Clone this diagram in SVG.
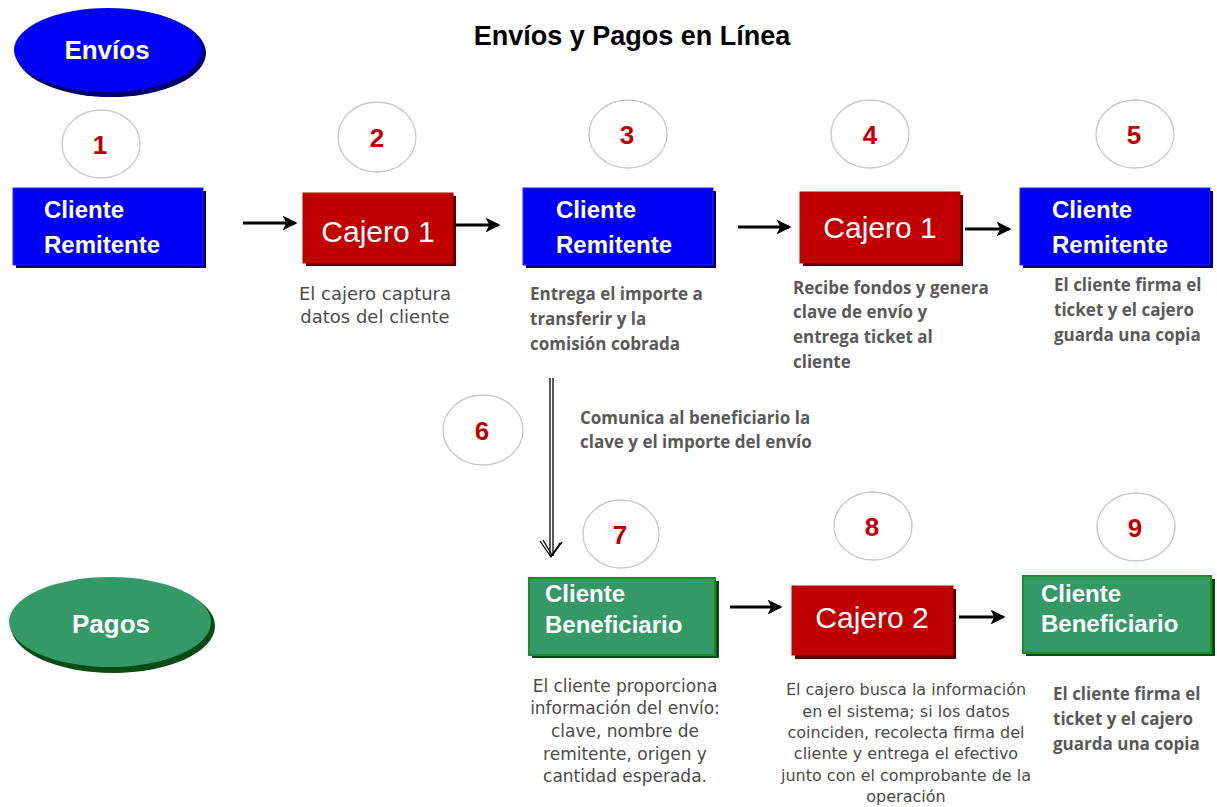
<svg xmlns="http://www.w3.org/2000/svg" width="1217" height="807" viewBox="0 0 1217 807">
<defs>
<style>
.title{font-family:"Liberation Sans",Arial,sans-serif;font-weight:bold;font-size:27px;fill:#000}
.ell{font-family:"Liberation Sans",Arial,sans-serif;font-weight:bold;font-size:26px;fill:#fff}
.num{font-family:"Liberation Sans",Arial,sans-serif;font-weight:bold;font-size:26px;fill:#c00000;text-anchor:middle}
.circ{fill:#fff;stroke:#c8c8c8;stroke-width:1.3}
.lbl{font-family:"Liberation Sans",Arial,sans-serif;font-weight:bold;font-size:24px;fill:#fff}
.caj{font-family:"Liberation Sans",Arial,sans-serif;font-size:30px;fill:#fff;text-anchor:middle}
.blue{fill:#0000f5;stroke:#2020ff;stroke-width:1}
.red{fill:#c00000;stroke:#b00000;stroke-width:1}
.green{fill:#339966;stroke:#1d8a2a;stroke-width:2}
.shb{fill:#00006a}
.shr{fill:#5a0000}
.shg{fill:#0a4a14}
.desc{font-family:"Open Sans","Liberation Sans",sans-serif;font-weight:bold;font-size:17px;fill:#595959}
.fz{font-family:"DejaVu Sans",sans-serif;fill:#4a4a4a;text-anchor:middle}
.f2{font-size:18px}
.f7{font-size:17px}
.f8{font-size:16px}
.arr{stroke:#000;stroke-width:3;fill:none;marker-end:url(#ah)}
</style>
<marker id="ah" viewBox="0 0 12 12" refX="10" refY="6" markerWidth="5" markerHeight="5" markerUnits="strokeWidth" orient="auto">
<path d="M0,0 L12,6 L0,12 L3,6 z" fill="#000"/>
</marker>
</defs>
<rect width="1217" height="807" fill="#fff"/>
<text class="title" x="632" y="45" text-anchor="middle">Envíos y Pagos en Línea</text>

<g id="envios">
<ellipse cx="111" cy="53" rx="95" ry="44" fill="#00006a"/>
<ellipse cx="108" cy="50" rx="94" ry="42" fill="#0000f5"/>
<text class="ell" x="107" y="59" text-anchor="middle">Envíos</text>
</g>
<g id="pagos">
<ellipse cx="113" cy="626" rx="102" ry="47" fill="#0a4a14"/>
<ellipse cx="110" cy="622" rx="101" ry="45" fill="#339966"/>
<text class="ell" x="111" y="633" text-anchor="middle">Pagos</text>
</g>

<g id="c1"><ellipse class="circ" cx="101" cy="144" rx="39" ry="34"/><text class="num" x="100" y="154">1</text></g>
<g id="c2"><ellipse class="circ" cx="377" cy="137" rx="39" ry="35"/><text class="num" x="377" y="147">2</text></g>
<g id="c3"><ellipse class="circ" cx="628" cy="134" rx="39" ry="34"/><text class="num" x="627" y="144">3</text></g>
<g id="c4"><ellipse class="circ" cx="870" cy="134" rx="39" ry="34"/><text class="num" x="870" y="144">4</text></g>
<g id="c5"><ellipse class="circ" cx="1135" cy="134" rx="39" ry="34"/><text class="num" x="1134" y="144">5</text></g>
<g id="c6"><ellipse class="circ" cx="483" cy="430" rx="40" ry="35"/><text class="num" x="482" y="440">6</text></g>
<g id="c7"><ellipse class="circ" cx="621" cy="534" rx="38" ry="34"/><text class="num" x="620" y="544">7</text></g>
<g id="c8"><ellipse class="circ" cx="873" cy="526" rx="39" ry="34"/><text class="num" x="872" y="536">8</text></g>
<g id="c9"><ellipse class="circ" cx="1136" cy="527" rx="39" ry="34"/><text class="num" x="1135" y="537">9</text></g>

<g id="n1">
<rect class="shb" x="16" y="191" width="190" height="77"/>
<rect class="blue" x="13" y="188" width="190" height="77"/>
<text class="lbl" x="44" y="218">Cliente</text>
<text class="lbl" x="44" y="253">Remitente</text>
</g>
<g id="n2">
<rect class="shr" x="306" y="196" width="150" height="70"/>
<rect class="red" x="303" y="193" width="150" height="70"/>
<text class="caj" x="378" y="242">Cajero 1</text>
</g>
<g id="n3">
<rect class="shb" x="526" y="191" width="190" height="77"/>
<rect class="blue" x="523" y="188" width="190" height="77"/>
<text class="lbl" x="556" y="218">Cliente</text>
<text class="lbl" x="556" y="253">Remitente</text>
</g>
<g id="n4">
<rect class="shr" x="803" y="195" width="160" height="71"/>
<rect class="red" x="800" y="192" width="160" height="71"/>
<text class="caj" x="880" y="238">Cajero 1</text>
</g>
<g id="n5">
<rect class="shb" x="1023" y="191" width="190" height="77"/>
<rect class="blue" x="1020" y="188" width="190" height="77"/>
<text class="lbl" x="1052" y="218">Cliente</text>
<text class="lbl" x="1052" y="253">Remitente</text>
</g>
<g id="n7">
<rect class="shg" x="532" y="581" width="187" height="77"/>
<rect class="green" x="529" y="578" width="186" height="77"/>
<text class="lbl" x="545" y="602">Cliente</text>
<text class="lbl" x="545" y="633">Beneficiario</text>
</g>
<g id="n8">
<rect class="shr" x="795" y="589" width="161" height="70"/>
<rect class="red" x="792" y="586" width="161" height="69"/>
<text class="caj" x="872" y="628">Cajero 2</text>
</g>
<g id="n9">
<rect class="shg" x="1026" y="579" width="189" height="77"/>
<rect class="green" x="1023" y="576" width="188" height="77"/>
<text class="lbl" x="1041" y="602">Cliente</text>
<text class="lbl" x="1041" y="632">Beneficiario</text>
</g>

<g id="connectors">
<line class="arr" x1="243" y1="223" x2="295" y2="223"/>
<line class="arr" x1="455" y1="225" x2="498" y2="225"/>
<line class="arr" x1="738" y1="227" x2="789" y2="227"/>
<line class="arr" x1="965" y1="229" x2="1009" y2="229"/>
<line class="arr" x1="730" y1="607" x2="780" y2="607"/>
<line class="arr" x1="959" y1="617" x2="1003" y2="617"/>
<g stroke="#000" fill="none" stroke-width="1.3">
<line x1="550" y1="378" x2="550" y2="556"/>
<line x1="553" y1="378" x2="553" y2="556"/>
<path d="M540,541 L551,557 L562,542"/>
<path d="M543,540 L552,555 L560,543"/>
</g>
</g>

<g id="texts">
<text class="fz f2" x="375" y="300">El cajero captura</text>
<text class="fz f2" x="375" y="323">datos del cliente</text>
<text class="desc" x="530" y="300">Entrega el importe a</text>
<text class="desc" x="530" y="325">transferir y la</text>
<text class="desc" x="530" y="350">comisión cobrada</text>
<text class="desc" x="793" y="294">Recibe fondos y genera</text>
<text class="desc" x="793" y="318">clave de envío y</text>
<text class="desc" x="793" y="343">entrega ticket al</text>
<text class="desc" x="793" y="368">cliente</text>
<text class="desc" x="1054" y="291">El cliente firma el</text>
<text class="desc" x="1054" y="316">ticket y el cajero</text>
<text class="desc" x="1054" y="341">guarda una copia</text>
<text class="desc" x="580" y="424">Comunica al beneficiario la</text>
<text class="desc" x="580" y="448">clave y el importe del envío</text>
<text class="fz f7" x="625" y="692">El cliente proporciona</text>
<text class="fz f7" x="625" y="714">información del envío:</text>
<text class="fz f7" x="625" y="737">clave, nombre de</text>
<text class="fz f7" x="625" y="760">remitente, origen y</text>
<text class="fz f7" x="625" y="782">cantidad esperada.</text>
<text class="fz f8" x="906" y="695">El cajero busca la información</text>
<text class="fz f8" x="906" y="717">en el sistema; si los datos</text>
<text class="fz f8" x="906" y="738">coinciden, recolecta firma del</text>
<text class="fz f8" x="906" y="759">cliente y entrega el efectivo</text>
<text class="fz f8" x="906" y="781">junto con el comprobante de la</text>
<text class="fz f8" x="906" y="802">operación</text>
<text class="desc" x="1053" y="700">El cliente firma el</text>
<text class="desc" x="1053" y="725">ticket y el cajero</text>
<text class="desc" x="1053" y="750">guarda una copia</text>
</g>
</svg>
